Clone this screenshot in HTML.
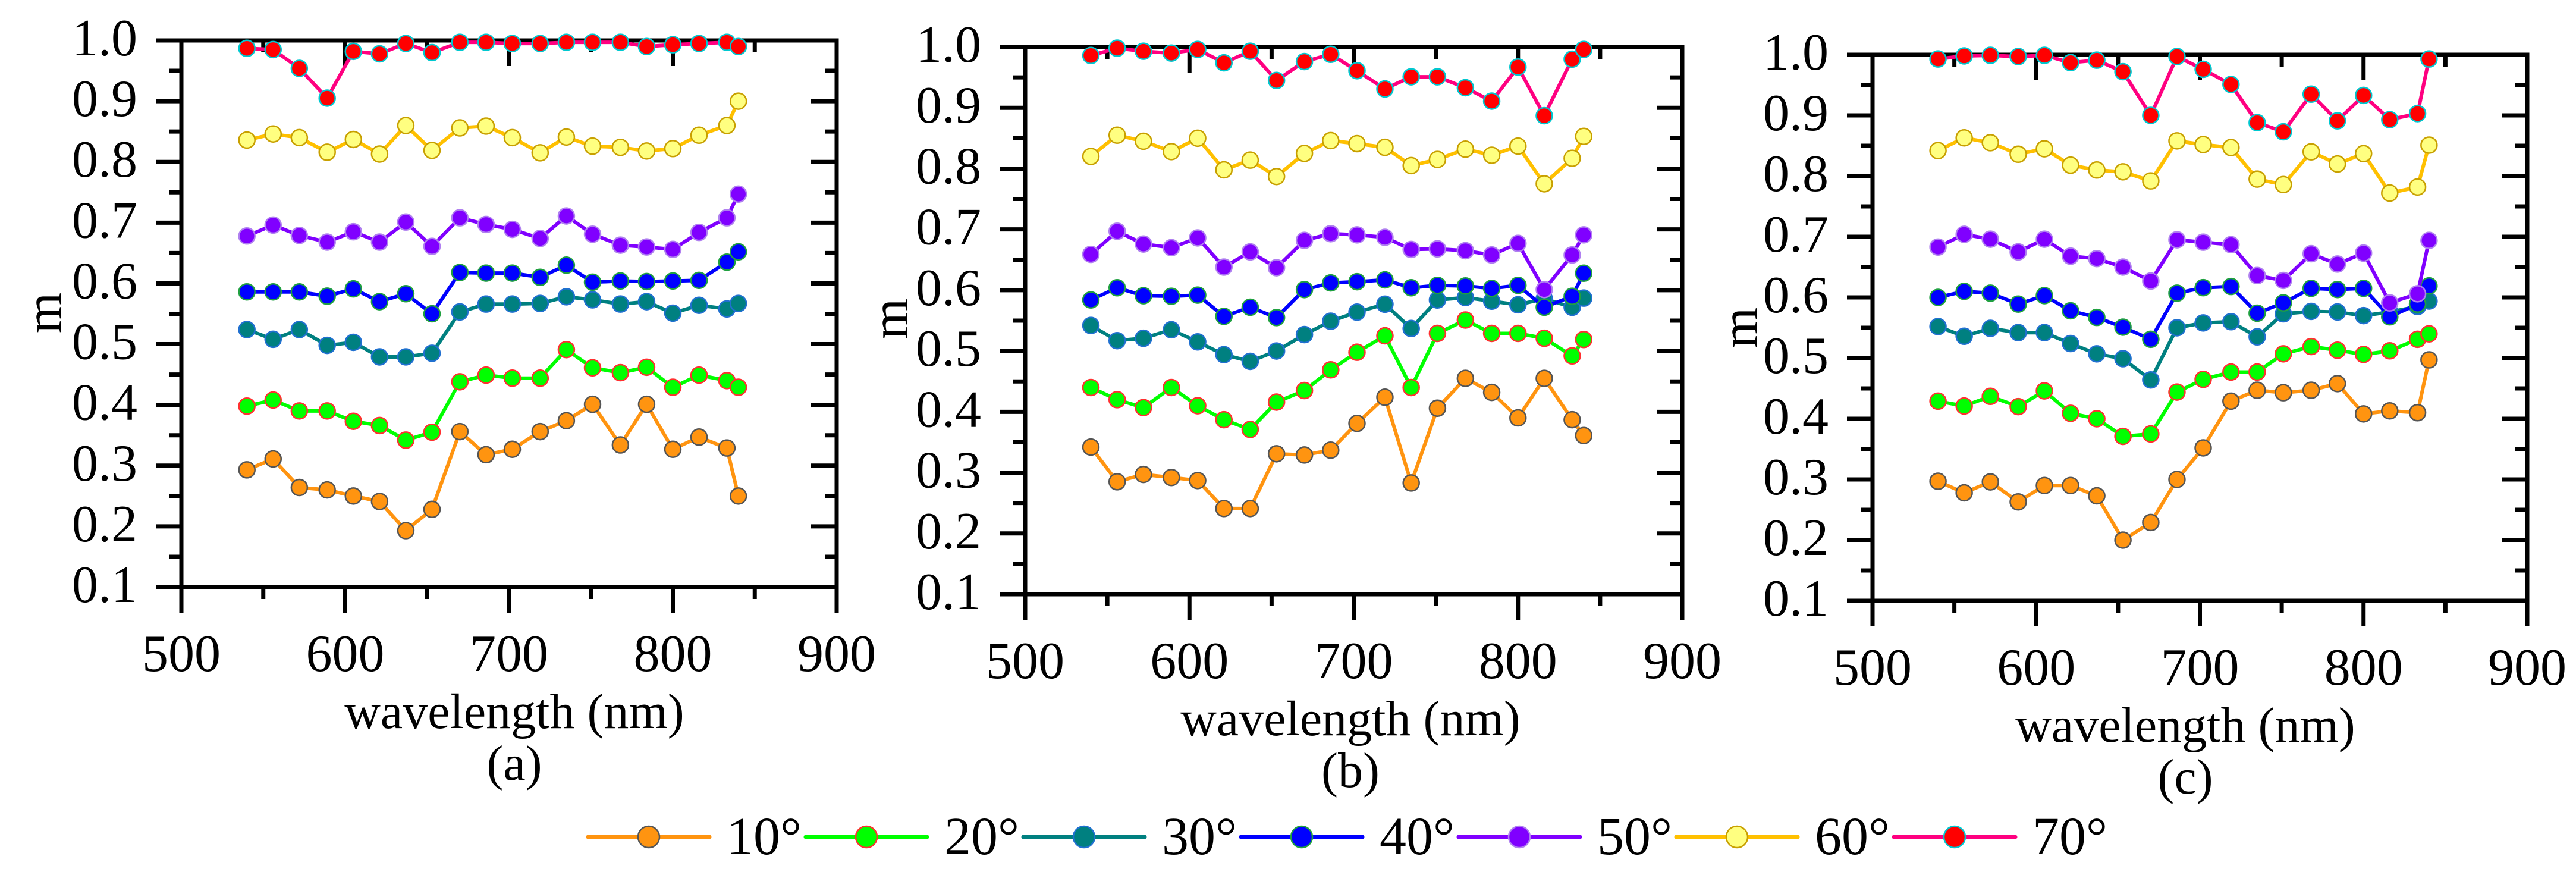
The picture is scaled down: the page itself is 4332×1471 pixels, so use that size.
<!DOCTYPE html>
<html><head><meta charset="utf-8"><style>
html,body{margin:0;padding:0;background:#fff;overflow:hidden;}
svg, svg text{font-family:"Liberation Serif","Times New Roman","DejaVu Serif",serif;}
svg{display:block;}
</style></head><body>
<svg id="fig" width="4332" height="1471" viewBox="0 0 4332 1471" xmlns="http://www.w3.org/2000/svg" font-family="Liberation Serif, Times New Roman, DejaVu Serif, serif"></svg>
<script>
const wavelengths=[540,556,572,589,605,621,637,653,670,686,702,719,735,751,768,784,800,816,833,840];
const seriesLabels=["10°","20°","30°","40°","50°","60°","70°"];
const xTicks=[500,600,700,800,900];
const yTicks=[0.1,0.2,0.3,0.4,0.5,0.6,0.7,0.8,0.9,1.0];
const yTickLabels=["0.1","0.2","0.3","0.4","0.5","0.6","0.7","0.8","0.9","1.0"];
const panelA10=[0.293,0.311,0.264,0.26,0.25,0.241,0.193,0.228,0.356,0.318,0.327,0.356,0.374,0.401,0.334,0.401,0.327,0.347,0.329,0.25];
const panelA20=[0.398,0.408,0.39,0.39,0.373,0.366,0.342,0.355,0.438,0.449,0.444,0.444,0.491,0.461,0.453,0.462,0.429,0.449,0.44,0.429];
const panelA30=[0.524,0.508,0.524,0.498,0.503,0.479,0.479,0.485,0.553,0.566,0.566,0.567,0.578,0.573,0.566,0.57,0.551,0.564,0.558,0.567];
const panelA40=[0.586,0.586,0.586,0.579,0.591,0.57,0.583,0.55,0.618,0.617,0.617,0.61,0.63,0.602,0.604,0.603,0.604,0.605,0.635,0.652];
const panelA50=[0.678,0.696,0.679,0.668,0.685,0.668,0.701,0.661,0.708,0.697,0.689,0.674,0.711,0.681,0.663,0.66,0.656,0.684,0.708,0.747];
const panelA60=[0.836,0.846,0.84,0.816,0.837,0.813,0.86,0.819,0.856,0.859,0.84,0.815,0.841,0.826,0.824,0.818,0.822,0.844,0.86,0.9];
const panelA70=[0.987,0.985,0.954,0.905,0.982,0.978,0.995,0.98,0.997,0.997,0.995,0.995,0.997,0.997,0.997,0.99,0.993,0.995,0.997,0.99];
const panelB10=[0.342,0.285,0.297,0.292,0.287,0.241,0.241,0.331,0.329,0.337,0.381,0.424,0.283,0.406,0.455,0.432,0.39,0.455,0.387,0.361];
const panelB20=[0.44,0.42,0.407,0.44,0.41,0.387,0.371,0.416,0.435,0.469,0.498,0.525,0.44,0.529,0.551,0.529,0.529,0.521,0.492,0.519];
const panelB30=[0.542,0.517,0.521,0.535,0.515,0.494,0.483,0.5,0.527,0.549,0.564,0.577,0.537,0.584,0.588,0.582,0.576,0.586,0.572,0.587];
const panelB40=[0.584,0.604,0.591,0.59,0.592,0.557,0.572,0.555,0.601,0.612,0.614,0.617,0.604,0.608,0.607,0.603,0.608,0.572,0.59,0.628];
const panelB50=[0.659,0.697,0.676,0.67,0.686,0.638,0.663,0.637,0.682,0.693,0.691,0.687,0.667,0.668,0.665,0.658,0.677,0.601,0.658,0.691];
const panelB60=[0.82,0.855,0.845,0.828,0.85,0.798,0.814,0.787,0.825,0.846,0.841,0.835,0.805,0.815,0.832,0.822,0.837,0.775,0.817,0.853];
const panelB70=[0.986,0.998,0.993,0.99,0.996,0.974,0.993,0.945,0.976,0.988,0.961,0.931,0.951,0.951,0.933,0.911,0.967,0.887,0.98,0.996];
const panelC10=[0.297,0.278,0.296,0.263,0.29,0.29,0.273,0.2,0.229,0.3,0.352,0.429,0.447,0.443,0.447,0.458,0.408,0.413,0.41,0.497];
const panelC20=[0.429,0.421,0.437,0.42,0.446,0.409,0.4,0.371,0.375,0.444,0.465,0.477,0.477,0.507,0.519,0.513,0.506,0.512,0.531,0.54];
const panelC30=[0.552,0.536,0.549,0.542,0.542,0.524,0.507,0.499,0.464,0.55,0.558,0.56,0.535,0.573,0.577,0.576,0.57,0.576,0.585,0.594];
const panelC40=[0.6,0.61,0.607,0.589,0.603,0.578,0.567,0.551,0.531,0.607,0.616,0.618,0.574,0.591,0.615,0.613,0.615,0.568,0.589,0.619];
const panelC50=[0.683,0.704,0.696,0.675,0.696,0.668,0.664,0.65,0.627,0.695,0.691,0.687,0.636,0.628,0.672,0.655,0.673,0.591,0.606,0.694];
const panelC60=[0.842,0.863,0.855,0.836,0.845,0.818,0.81,0.807,0.792,0.858,0.852,0.847,0.795,0.786,0.84,0.82,0.837,0.772,0.782,0.851];
const panelC70=[0.993,0.998,0.999,0.997,0.999,0.987,0.991,0.972,0.9,0.997,0.976,0.951,0.888,0.873,0.935,0.891,0.933,0.893,0.903,0.993];

const styles=[
 {line:"#FF9410",fill:"#FF9410",edge:"#555555"},
 {line:"#00FF00",fill:"#00FF00",edge:"#FF3030"},
 {line:"#008080",fill:"#008080",edge:"#2070D0"},
 {line:"#0000FF",fill:"#0000FF",edge:"#20A040"},
 {line:"#8000FF",fill:"#8000FF",edge:"#B080F0"},
 {line:"#FFC000",fill:"#FFFF80",edge:"#C8A000"},
 {line:"#FF0080",fill:"#FF0000",edge:"#00C8D0"}
];
const panels=[
 {id:"a",L:305,R:1407,T:68,B:987,data:[panelA10,panelA20,panelA30,panelA40,panelA50,panelA60,panelA70],mx:74,my:526,cx:865},
 {id:"b",L:1724,R:2829,T:79,B:999,data:[panelB10,panelB20,panelB30,panelB40,panelB50,panelB60,panelB70],mx:1497,my:536,cx:2271},
 {id:"c",L:3149,R:4250,T:92,B:1010,data:[panelC10,panelC20,panelC30,panelC40,panelC50,panelC60,panelC70],mx:2926,my:551,cx:3675}
];
const NS="http://www.w3.org/2000/svg";
const svg=document.getElementById("fig");
const FF="Liberation Serif, Times New Roman, DejaVu Serif, serif";
function mk(tag,attrs,parent){const e=document.createElementNS(NS,tag);for(const k in attrs)e.setAttribute(k,attrs[k]);(parent||svg).appendChild(e);return e;}

panels.forEach(p=>{
 const g=mk("g",{});
 
 
 const xs=v=>p.L+(v-500)/400*(p.R-p.L);
 const ys=v=>p.B-(v-0.1)/0.9*(p.B-p.T);
 const ax=mk("g",{stroke:"#000","stroke-width":7,fill:"none"},g);
 
 
 mk("rect",{x:p.L,y:p.T,width:p.R-p.L,height:p.B-p.T},ax);
 for(let k=0;k<=18;k++){
  const v=0.1+k*0.05;const y=ys(v);const major=k%2===0;
  const len=major?43:20;
  mk("line",{x1:p.L-len,x2:p.L,y1:y,y2:y},ax);
  mk("line",{x1:p.R-len,x2:p.R,y1:y,y2:y},ax);
 }
 for(let v=500;v<=900;v+=50){
  const x=xs(v);const major=v%100===0;
  mk("line",{x1:x,x2:x,y1:p.B,y2:p.B+(major?43:20)},ax);
  mk("line",{x1:x,x2:x,y1:p.T,y2:p.T+(major?43:20)},ax);
 }
 yTicks.forEach((v,i)=>{
  const t=mk("text",{x:p.L-74,y:ys(v)+25,"text-anchor":"end","font-size":88,"font-family":FF},g);
  
  
  t.textContent=yTickLabels[i];
 });
 xTicks.forEach(v=>{
  const t=mk("text",{x:xs(v),y:p.B+141,"text-anchor":"middle","font-size":88,"font-family":FF},g);
  
  
  t.textContent=v;
 });
 const yt=mk("text",{x:p.mx,y:p.my,"text-anchor":"middle","font-size":88,"font-family":FF,transform:`rotate(-90 ${p.mx} ${p.my})`,"dominant-baseline":"central"},g);
 
 
 yt.textContent="m";
 const xt=mk("text",{x:p.cx,y:p.B+237,"text-anchor":"middle","font-size":84,"font-family":FF},g);
 
 
 xt.textContent="wavelength (nm)";
 const cap=mk("text",{x:p.cx,y:p.B+324,"text-anchor":"middle","font-size":84,"font-family":FF},g);
 
 
 cap.textContent="("+p.id+")";
 p.data.forEach((arr,si)=>{
  const st=styles[si];
  const sg=mk("g",{},g);
  
  
  const pts=arr.map((v,i)=>xs(wavelengths[i]).toFixed(1)+","+ys(v).toFixed(1)).join(" ");
  const pl=mk("polyline",{points:pts,fill:"none",stroke:st.line,"stroke-width":6,"stroke-linejoin":"round"},sg);
  
  
  arr.forEach((v,i)=>{
   const c=mk("circle",{cx:xs(wavelengths[i]),cy:ys(v),r:13.5,fill:st.fill,stroke:st.edge,"stroke-width":2.5},sg);
   
   
  });
 });
});

const lg=mk("g",{});


seriesLabels.forEach((lab,i)=>{
 const x0=989+i*366, yc=1407, st=styles[i];
 const e=mk("g",{},lg);
 
 
 mk("line",{x1:x0,x2:x0+204,y1:yc,y2:yc,stroke:st.line,"stroke-width":7,"stroke-linecap":"round"},e);
 mk("ellipse",{cx:x0+102,cy:yc,rx:18,ry:18,fill:st.fill,stroke:st.edge,"stroke-width":2.5},e);
 const t=mk("text",{x:x0+233,y:1436,"font-size":90,"font-family":FF},e);
 t.textContent=lab;
});
</script>
</body></html>
